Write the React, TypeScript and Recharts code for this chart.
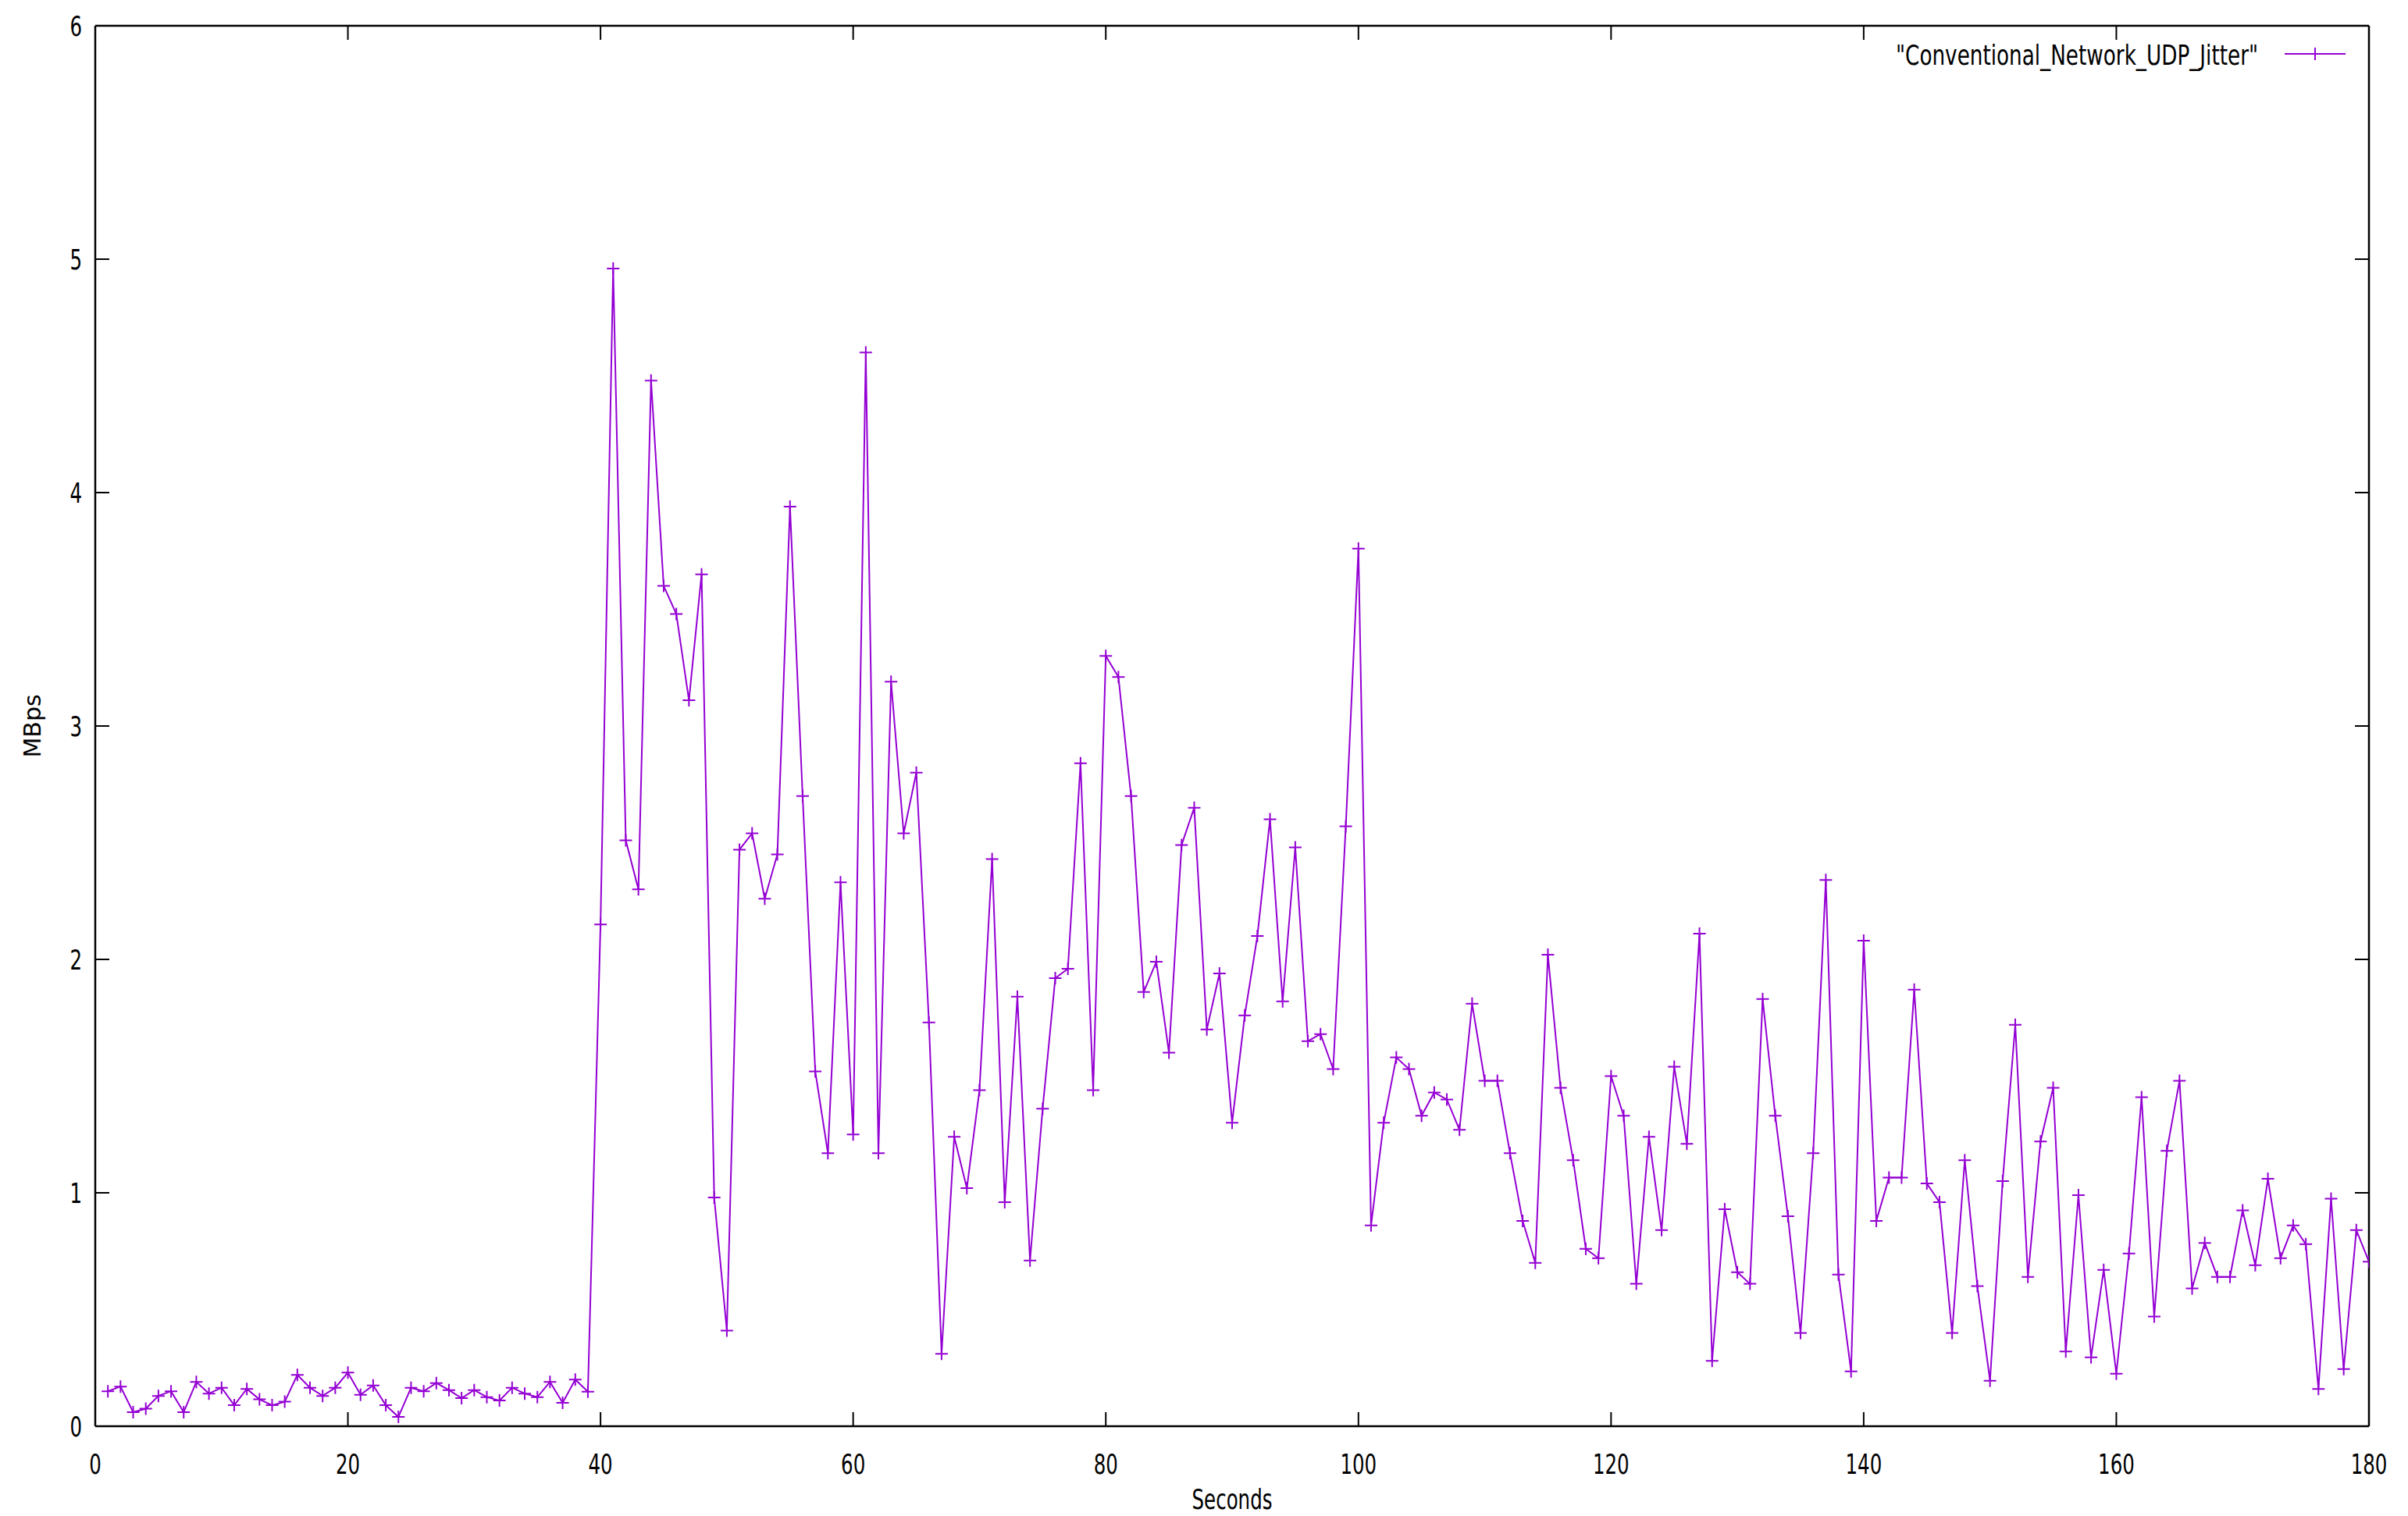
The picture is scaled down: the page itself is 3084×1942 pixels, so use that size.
import { LineChart, Line, XAxis, YAxis, Legend } from 'recharts';

const SERIES_NAME = '"Conventional_Network_UDP_Jitter"';
const X_TICKS = [0, 20, 40, 60, 80, 100, 120, 140, 160, 180];
const Y_TICKS = [0, 1, 2, 3, 4, 5, 6];

// seconds 1..180
const JITTER = [
    0.15, 0.17, 0.06, 0.075, 0.13, 0.15, 0.06, 0.19, 0.14, 0.165,
    0.09, 0.16, 0.115, 0.09, 0.105, 0.22, 0.165, 0.13, 0.165, 0.23,
    0.135, 0.175, 0.09, 0.04, 0.165, 0.15, 0.185, 0.155, 0.12, 0.155,
    0.125, 0.11, 0.165, 0.14, 0.125, 0.19, 0.1, 0.2, 0.148, 2.15,
    4.96, 2.51, 2.30, 4.48, 3.60, 3.48, 3.11, 3.65, 0.98, 0.41,
    2.47, 2.54, 2.26, 2.45, 3.94, 2.70, 1.52, 1.17, 2.33, 1.25,
    4.60, 1.17, 3.19, 2.54, 2.80, 1.73, 0.31, 1.24, 1.02, 1.44,
    2.43, 0.96, 1.84, 0.71, 1.36, 1.92, 1.96, 2.84, 1.44, 3.30,
    3.21, 2.70, 1.86, 1.99, 1.60, 2.49, 2.65, 1.70, 1.94, 1.30,
    1.76, 2.10, 2.60, 1.82, 2.48, 1.65, 1.68, 1.53, 2.57, 3.76,
    0.86, 1.30, 1.58, 1.53, 1.33, 1.43, 1.40, 1.27, 1.81, 1.48,
    1.48, 1.17, 0.88, 0.70, 2.02, 1.45, 1.14, 0.76, 0.72, 1.50,
    1.33, 0.61, 1.24, 0.84, 1.54, 1.21, 2.11, 0.28, 0.93, 0.66,
    0.61, 1.83, 1.33, 0.90, 0.40, 1.17, 2.34, 0.65, 0.235, 2.08,
    0.88, 1.065, 1.065, 1.87, 1.04, 0.96, 0.40, 1.14, 0.60, 0.195,
    1.05, 1.72, 0.64, 1.22, 1.45, 0.32, 0.99, 0.295, 0.67, 0.225,
    0.74, 1.41, 0.47, 1.18, 1.48, 0.59, 0.785, 0.64, 0.64, 0.925,
    0.69, 1.06, 0.72, 0.86, 0.78, 0.16, 0.975, 0.245, 0.84, 0.705,
];

const data = JITTER.map((v, i) => ({ sec: i + 1, mbps: v }));

const PURPLE = '#9400D3';
const FONT = '"DejaVu Sans", sans-serif';
const FS = 35;
const SQUEEZE = 0.7;
const TICK = 18;
const FRAME = { stroke: '#000', strokeWidth: 2.5 };

function BottomTick({ x, y, payload }: any) {
    return (
        <g>
            <line x1={x} y1={y} x2={x} y2={y - TICK} stroke="#000" strokeWidth={2} />
            <text transform={`translate(${x},${y + 61}) scale(${SQUEEZE},1)`} textAnchor="middle"
                fontFamily={FONT} fontSize={FS} fill="#000">{payload.value}</text>
        </g>
    );
}

function TopTick({ x, y }: any) {
    return <line x1={x} y1={y} x2={x} y2={y + TICK} stroke="#000" strokeWidth={2} />;
}

function LeftTick({ x, y, payload }: any) {
    return (
        <g>
            <line x1={x} y1={y} x2={x + TICK} y2={y} stroke="#000" strokeWidth={2} />
            <text transform={`translate(${x - 17},${y + 13}) scale(${SQUEEZE},1)`} textAnchor="end"
                fontFamily={FONT} fontSize={FS} fill="#000">{payload.value}</text>
        </g>
    );
}

function RightTick({ x, y }: any) {
    return <line x1={x} y1={y} x2={x - TICK} y2={y} stroke="#000" strokeWidth={2} />;
}

function Cross({ cx, cy }: any) {
    if (cx == null || cy == null) return null;
    return (
        <path d={`M${cx - 8},${cy}H${cx + 8}M${cx},${cy - 8}V${cy + 8}`}
            stroke={PURPLE} strokeWidth={2} fill="none" />
    );
}

function SecondsLabel({ viewBox }: any) {
    const cx = viewBox.x + viewBox.width / 2;
    return (
        <text transform={`translate(${cx},${viewBox.y + 106}) scale(${SQUEEZE},1)`} textAnchor="middle"
            fontFamily={FONT} fontSize={FS} fill="#000">Seconds</text>
    );
}

function MbpsLabel({ viewBox }: any) {
    const cy = viewBox.y + viewBox.height / 2;
    return (
        <text transform={`translate(52,${cy}) rotate(-90)`}
            textAnchor="middle" fontFamily={FONT} fontSize={30} fill="#000">MBps</text>
    );
}

function KeyBox({ payload }: any) {
    const name = payload?.[0]?.value ?? SERIES_NAME;
    return (
        <svg width={3084} height={110} style={{ display: 'block' }}>
            <text x={2428} y={83} textLength={464} lengthAdjust="spacingAndGlyphs"
                fontFamily={FONT} fontSize={FS} fill="#000">{name}</text>
            <line x1={2926} y1={69} x2={3004} y2={69} stroke={PURPLE} strokeWidth={2} />
            <path d="M2957,69H2973M2965,61V77" stroke={PURPLE} strokeWidth={2} />
        </svg>
    );
}

export default function App() {
    return (
        <div style={{ position: 'absolute', left: 0, top: 0, background: '#fff' }}>
            <LineChart width={3084} height={1942} data={data}
                margin={{ top: 32, right: 49, bottom: 0, left: 0 }}>
                <XAxis dataKey="sec" type="number" domain={[0, 180]} ticks={X_TICKS} allowDataOverflow
                    height={115} tickSize={0} tickMargin={0} tickLine={false}
                    axisLine={FRAME} tick={<BottomTick />}
                    label={{ content: SecondsLabel }} interval={0} />
                <XAxis xAxisId="top" orientation="top" dataKey="sec" type="number" domain={[0, 180]}
                    ticks={X_TICKS} allowDataOverflow height={1} tickSize={0} tickMargin={0}
                    tickLine={false} axisLine={FRAME} tick={<TopTick />} interval={0} />
                <YAxis type="number" domain={[0, 6]} ticks={Y_TICKS} allowDataOverflow
                    width={122} tickSize={0} tickMargin={0} tickLine={false}
                    axisLine={FRAME} tick={<LeftTick />}
                    label={{ content: MbpsLabel }} interval={0} />
                <YAxis yAxisId="right" orientation="right" type="number" domain={[0, 6]} ticks={Y_TICKS}
                    allowDataOverflow width={1} tickSize={0} tickMargin={0} tickLine={false}
                    axisLine={FRAME} tick={<RightTick />} interval={0} />
                <Legend layout="horizontal" verticalAlign="middle" align="center" content={<KeyBox />}
                    wrapperStyle={{ left: 0, top: 0, width: 3084, margin: 0 }} />
                <Line type="linear" dataKey="mbps" name={SERIES_NAME} stroke={PURPLE} strokeWidth={2}
                    dot={<Cross />} activeDot={false} isAnimationActive={false} />
            </LineChart>
        </div>
    );
}
